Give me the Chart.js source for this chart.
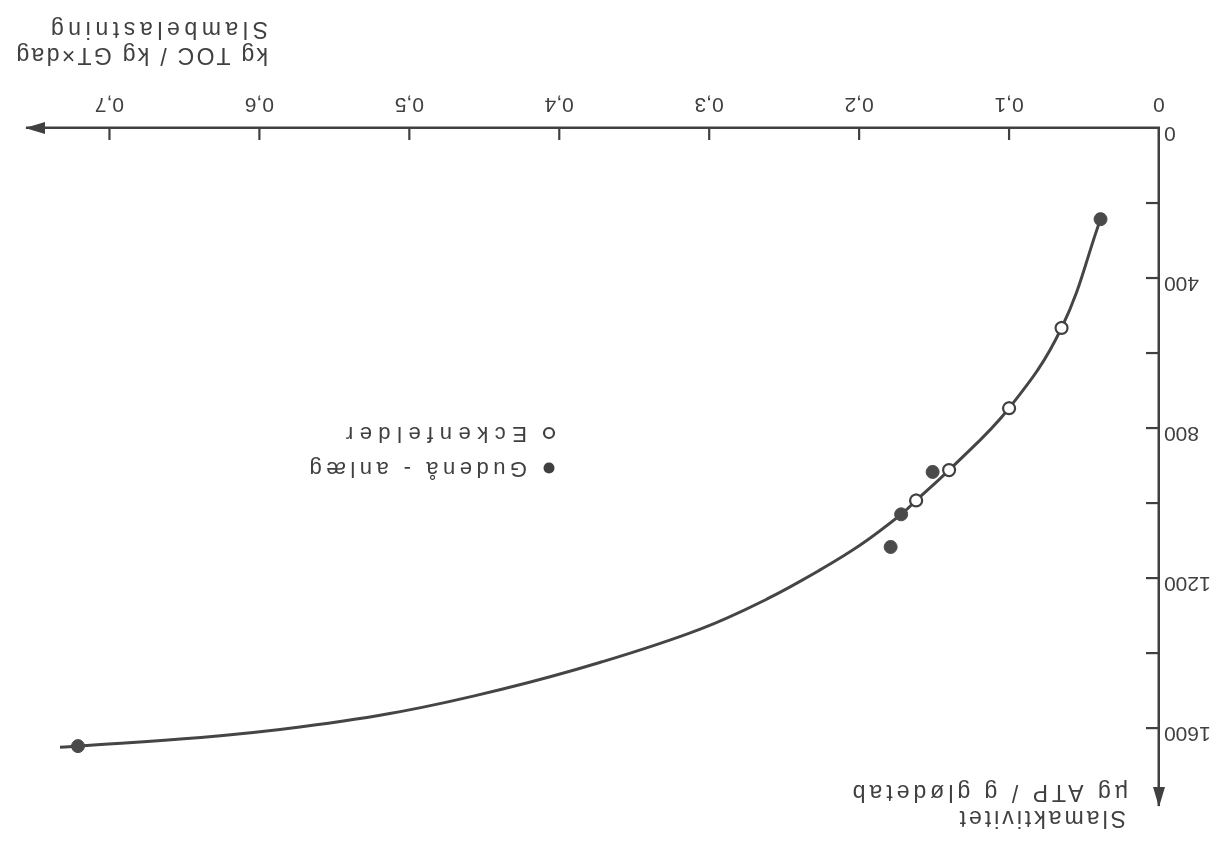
<!DOCTYPE html>
<html lang="da">
<head>
<meta charset="utf-8">
<title>Slamaktivitet og slambelastning</title>
<script src="https://cdn.jsdelivr.net/npm/chart.js@4/dist/chart.umd.min.js"></script>
<style>
  html, body { margin: 0; padding: 0; background: #ffffff; }
  #wrap { width: 1232px; height: 844px; }
  /* the scanned figure is printed upside down, so turn the whole canvas */
  #chart { display: block; transform: rotate(180deg); }
</style>
</head>
<body>
<div id="wrap"><canvas id="chart" width="1232" height="844"></canvas></div>
<script>
'use strict';

// tick values on the two axes
const xTickValues = [0, 0.1, 0.2, 0.3, 0.4, 0.5, 0.6, 0.7];
const yTickValues = [0, 200, 400, 600, 800, 1000, 1200, 1400, 1600];
const yLabelEvery = 400;

// Gudenå-anlæg (filled dots)
const gudenaX = [0.039, 0.151, 0.172, 0.179, 0.721];
const gudenaY = [243, 917, 1030, 1117, 1648];

// Eckenfelder (open dots)
const eckenX = [0.065, 0.100, 0.140, 0.162];
const eckenY = [533, 747, 912, 993];

// the hand drawn curve
const curveX = [0.039, 0.065, 0.100, 0.140, 0.162, 0.172, 0.199, 0.226, 0.261, 0.306, 0.373, 0.439, 0.506, 0.573, 0.639, 0.721, 0.733];
const curveY = [243, 533, 747, 912, 993, 1030, 1111, 1178, 1255, 1336, 1425, 1497, 1556, 1597, 1625, 1648, 1651];

// texts
const xTitleLines = ['kg TOC / kg GT×dag', 'Slambelastning'];
const yTitleLines = ['Slamaktivitet', 'µg ATP / g glødetab'];
const legendNames = ['Gudenå - anlæg', 'Eckenfelder'];

const ink = '#404040';
const fontFamily = '"Liberation Sans", Arial, sans-serif';

function toPoints(xs, ys) {
  let pts = [];
  for (let i = 0; i < xs.length; i++) {
    pts.push({ x: xs[i], y: ys[i] });
  }
  return pts;
}

function commaNumber(v) {
  if (v === 0) return '0';
  return String(Math.round(v * 10) / 10).replace('.', ',');
}

// ticks pointing into the plot, arrows and the hand lettered texts
const sketchPlugin = {
  id: 'sketch',
  afterDatasetsDraw(chart) {
    const ctx = chart.ctx;
    const area = chart.chartArea;
    const xs = chart.scales.x;
    const ys = chart.scales.y;
    ctx.save();
    ctx.strokeStyle = ink;
    ctx.fillStyle = ink;
    ctx.lineWidth = 2.2;

    // inward ticks
    xs.ticks.forEach(t => {
      if (t.value === 0) return;
      const px = xs.getPixelForValue(t.value);
      ctx.beginPath();
      ctx.moveTo(px, area.bottom);
      ctx.lineTo(px, area.bottom - 12);
      ctx.stroke();
    });
    ys.ticks.forEach(t => {
      if (t.value === 0) return;
      const py = ys.getPixelForValue(t.value);
      ctx.beginPath();
      ctx.moveTo(area.left, py);
      ctx.lineTo(area.left + 13, py);
      ctx.stroke();
    });

    // arrow heads
    ctx.beginPath();
    ctx.moveTo(area.right + 2, area.bottom);
    ctx.lineTo(area.right - 18, area.bottom - 6);
    ctx.lineTo(area.right - 18, area.bottom + 6);
    ctx.closePath();
    ctx.fill();
    ctx.beginPath();
    ctx.moveTo(area.left, area.top - 2);
    ctx.lineTo(area.left - 6, area.top + 18);
    ctx.lineTo(area.left + 6, area.top + 18);
    ctx.closePath();
    ctx.fill();

    // axis titles
    ctx.textAlign = 'left';
    ctx.textBaseline = 'middle';
    ctx.font = '23px ' + fontFamily;
    ctx.letterSpacing = '3px';
    ctx.fillText(yTitleLines[0], 106, 27);
    ctx.letterSpacing = '4px';
    ctx.fillText(yTitleLines[1], 104, 53);
    ctx.letterSpacing = '2.3px';
    ctx.fillText(xTitleLines[0], 964, 790);
    ctx.letterSpacing = '4.6px';
    ctx.fillText(xTitleLines[1], 964, 816);

    // legend
    const lx = 683;
    const rows = [376, 411];
    ctx.beginPath();
    ctx.arc(lx, rows[0], 5.5, 0, Math.PI * 2);
    ctx.fill();
    ctx.beginPath();
    ctx.arc(lx, rows[1], 5, 0, Math.PI * 2);
    ctx.fillStyle = '#ffffff';
    ctx.fill();
    ctx.lineWidth = 2.2;
    ctx.stroke();
    ctx.fillStyle = ink;
    ctx.font = '22px ' + fontFamily;
    ctx.letterSpacing = '4.5px';
    ctx.fillText(legendNames[0], 705, rows[0]);
    ctx.letterSpacing = '6.5px';
    ctx.fillText(legendNames[1], 705, rows[1]);
    ctx.restore();
  }
};

const ctx = document.getElementById('chart').getContext('2d');

new Chart(ctx, {
  type: 'scatter',
  data: {
    datasets: [
      {
        label: legendNames[1],
        data: toPoints(eckenX, eckenY),
        pointRadius: 6,
        pointBackgroundColor: '#ffffff',
        pointBorderColor: ink,
        pointBorderWidth: 2.2,
        order: 1
      },
      {
        label: legendNames[0],
        data: toPoints(gudenaX, gudenaY),
        pointRadius: 6.5,
        pointBackgroundColor: '#4a4a4a',
        pointBorderColor: '#4a4a4a',
        pointBorderWidth: 1,
        order: 2
      },
      {
        label: 'kurve',
        data: toPoints(curveX, curveY),
        showLine: true,
        pointRadius: 0,
        borderColor: '#454545',
        borderWidth: 3,
        tension: 0.4,
        order: 3
      }
    ]
  },
  options: {
    responsive: false,
    animation: false,
    layout: { padding: { top: 39, right: 27, left: 0, bottom: 0 } },
    plugins: {
      legend: { display: false },
      tooltip: { enabled: false }
    },
    scales: {
      x: {
        type: 'linear',
        min: 0,
        max: 0.755,
        afterBuildTicks: scale => { scale.ticks = xTickValues.map(v => ({ value: v })); },
        afterFit: scale => { scale.height = 128; },
        grid: { drawOnChartArea: false, drawTicks: false },
        border: { color: ink, width: 2.5 },
        ticks: {
          padding: 12,
          color: ink,
          font: { family: fontFamily, size: 21 },
          callback: v => commaNumber(v)
        }
      },
      y: {
        type: 'linear',
        min: 0,
        max: 1805,
        afterBuildTicks: scale => { scale.ticks = yTickValues.map(v => ({ value: v })); },
        afterFit: scale => { scale.width = 73; },
        grid: { drawOnChartArea: false, drawTicks: false },
        border: { color: ink, width: 2.5 },
        ticks: {
          padding: 5,
          labelOffset: -5,
          color: ink,
          font: { family: fontFamily, size: 21 },
          callback: v => (v % yLabelEvery === 0 ? String(v) : '')
        }
      }
    }
  },
  plugins: [sketchPlugin]
});
</script>
</body>
</html>
